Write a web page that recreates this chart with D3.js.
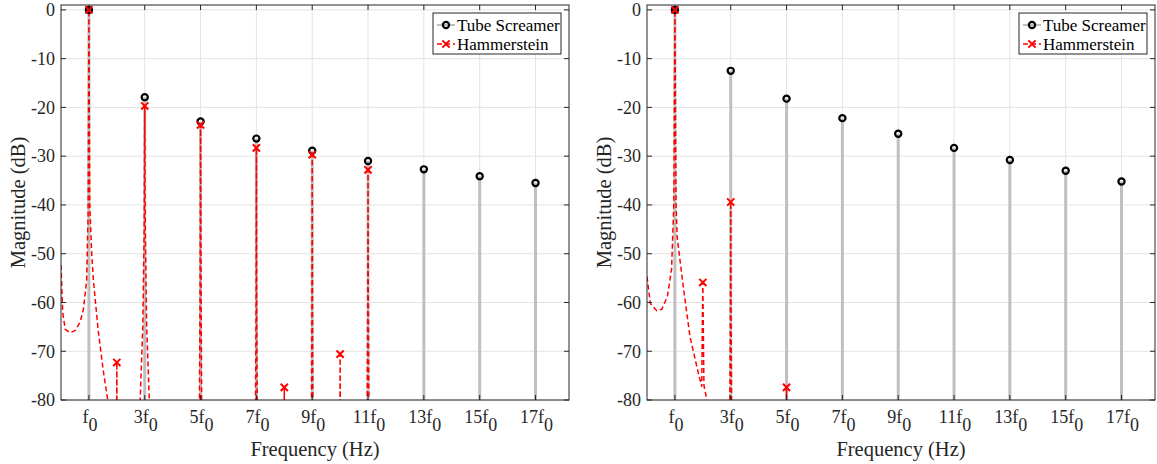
<!DOCTYPE html>
<html>
<head>
<meta charset="utf-8">
<script src="https://cdn.jsdelivr.net/npm/d3@7"></script>
<style>
  body { margin: 0; background: #fff; }
</style>
</head>
<body>
<svg id="chart" width="1157" height="464"></svg>
<script>
// harmonic positions (in multiples of f0) and tick labels
const harmonics = [1, 3, 5, 7, 9, 11, 13, 15, 17];
const xTickLabels = ["f_0", "3f_0", "5f_0", "7f_0", "9f_0", "11f_0", "13f_0", "15f_0", "17f_0"];
const yTicks = [-80, -70, -60, -50, -40, -30, -20, -10, 0];
const seriesNames = ["Tube Screamer", "Hammerstein"];

// Tube Screamer harmonic levels (dB)
const tsLeft = [0, -17.9, -22.9, -26.4, -28.9, -31.0, -32.7, -34.1, -35.5];
const tsRight = [0, -12.5, -18.2, -22.2, -25.4, -28.3, -30.8, -33.0, -35.2];

// Hammerstein marked peaks
const hamPeakFreqLeft = [1, 2, 3, 5, 7, 8, 9, 10, 11];
const hamPeakLeft = [0, -72.3, -19.7, -23.6, -28.3, -77.4, -29.7, -70.6, -32.8];
const hamPeakFreqRight = [1, 2, 3, 5];
const hamPeakRight = [0, -55.9, -39.4, -77.4];

// Hammerstein spectrum trace (values under -80 fall outside the axes)
const hamTraceFreqLeft = [0, 0.06, 0.15, 0.32, 0.5, 0.68, 0.8, 0.92, 0.97, 1.0, 1.03, 1.1, 1.16, 1.33, 1.51, 1.7,
  1.99, 2.0, 2.01, 2.83, 2.93, 2.98, 3.0, 3.02, 3.07, 3.17,
  4.95, 4.98, 5.0, 5.02, 5.05, 6.96, 6.99, 7.0, 7.01, 7.04, 7.99, 8.0, 8.01,
  8.97, 8.99, 9.0, 9.01, 9.03, 9.99, 10.0, 10.01, 10.96, 10.99, 11.0, 11.01, 11.04];
const hamTraceLeft = [-52.3, -62, -65.5, -66.2, -65.8, -64.1, -61.5, -55.4, -42, 0, -40, -50, -55.4, -65.6, -73.8, -81,
  -90, -72.3, -90, -81, -65, -45, -19.7, -45, -65, -81,
  -90, -60, -23.6, -60, -90, -90, -60, -28.3, -60, -90, -90, -77.4, -90,
  -90, -60, -29.7, -60, -90, -90, -70.6, -90, -90, -60, -32.8, -60, -90];
const hamTraceFreqRight = [0, 0.12, 0.35, 0.53, 0.73, 0.88, 0.96, 1.0, 1.04, 1.08, 1.3, 1.54, 1.84, 1.96,
  2.0, 2.04, 2.11, 2.16, 2.96, 2.99, 3.0, 3.01, 3.04, 4.99, 5.0, 5.01];
const hamTraceRight = [-54.7, -60.2, -61.7, -61.4, -58.8, -53.2, -40, 0, -40, -46.5, -56.8, -67, -74.5, -77.3,
  -55.9, -77, -79, -90, -90, -60, -39.4, -60, -90, -90, -77.4, -90];

const svg = d3.select("#chart");
const font = "Liberation Serif";
const margin = {top: 5, bottom: 64};
const plotH = 464 - margin.top - margin.bottom;
const plotW = 508;
const panels = [
  {left: 61, ts: tsLeft, peakF: hamPeakFreqLeft, peak: hamPeakLeft, traceF: hamTraceFreqLeft, trace: hamTraceLeft},
  {left: 647, ts: tsRight, peakF: hamPeakFreqRight, peak: hamPeakRight, traceF: hamTraceFreqRight, trace: hamTraceRight}
];

const x = d3.scaleLinear().domain([0, 18.2]).range([0, plotW]);
const y = d3.scaleLinear().domain([-80, 1]).range([plotH, 0]);
const axisColor = "#262626";
const grayLine = "#bfbfbf";

function crossPath(cx, cy, s) {
  return `M${cx - s},${cy - s}L${cx + s},${cy + s}M${cx - s},${cy + s}L${cx + s},${cy - s}`;
}

function addTickText(sel, label) {
  const parts = label.split("_");
  sel.append("tspan").text(parts[0]);
  sel.append("tspan").attr("dy", 8).text(parts[1]);
}

panels.forEach(function (p, pi) {
  const g = svg.append("g").attr("transform", `translate(${p.left},${margin.top})`);
  const clipId = "clip" + pi;
  g.append("clipPath").attr("id", clipId)
    .append("rect").attr("width", plotW).attr("height", plotH);

  // grid
  g.selectAll(".hgrid").data(yTicks).enter().append("line")
    .attr("x1", 0).attr("x2", plotW)
    .attr("y1", d => y(d)).attr("y2", d => y(d))
    .attr("stroke", "#e3e3e3").attr("stroke-width", 1);
  g.selectAll(".vgrid").data(harmonics).enter().append("line")
    .attr("x1", d => x(d)).attr("x2", d => x(d))
    .attr("y1", 0).attr("y2", plotH)
    .attr("stroke", "#e3e3e3").attr("stroke-width", 1);

  const plot = g.append("g").attr("clip-path", `url(#${clipId})`);

  // Tube Screamer stems
  plot.selectAll(".stem").data(p.ts).enter().append("line")
    .attr("x1", (d, i) => x(harmonics[i])).attr("x2", (d, i) => x(harmonics[i]))
    .attr("y1", y(-90)).attr("y2", d => y(d))
    .attr("stroke", grayLine).attr("stroke-width", 3);

  // Hammerstein trace
  const traceData = p.traceF.map((f, i) => [f, p.trace[i]]);
  plot.append("path")
    .datum(traceData)
    .attr("d", d3.line().x(d => x(d[0])).y(d => y(d[1])))
    .attr("fill", "none")
    .attr("stroke", "#ff0000").attr("stroke-width", 1.5)
    .attr("stroke-dasharray", "5,3");

  // Tube Screamer markers
  g.selectAll(".tsdot").data(p.ts).enter().append("circle")
    .attr("cx", (d, i) => x(harmonics[i])).attr("cy", d => y(d))
    .attr("r", 3.1).attr("fill", "none")
    .attr("stroke", "#000").attr("stroke-width", 2.2);

  // Hammerstein markers
  g.selectAll(".hamx").data(p.peak).enter().append("path")
    .attr("d", (d, i) => crossPath(x(p.peakF[i]), y(d), 3.6))
    .attr("stroke", "#ff0000").attr("stroke-width", 2).attr("fill", "none");

  // box
  g.append("rect").attr("width", plotW).attr("height", plotH)
    .attr("fill", "none").attr("stroke", axisColor).attr("stroke-width", 1);

  // ticks (inside, on all four sides)
  const tl = 5;
  yTicks.forEach(function (t) {
    g.append("line").attr("x1", 0).attr("x2", tl).attr("y1", y(t)).attr("y2", y(t)).attr("stroke", axisColor);
    g.append("line").attr("x1", plotW - tl).attr("x2", plotW).attr("y1", y(t)).attr("y2", y(t)).attr("stroke", axisColor);
  });
  harmonics.forEach(function (h) {
    g.append("line").attr("x1", x(h)).attr("x2", x(h)).attr("y1", plotH).attr("y2", plotH - tl).attr("stroke", axisColor);
    g.append("line").attr("x1", x(h)).attr("x2", x(h)).attr("y1", 0).attr("y2", tl).attr("stroke", axisColor);
  });

  // y tick labels
  g.selectAll(".ylab").data(yTicks).enter().append("text")
    .attr("x", -6).attr("y", d => y(d)).attr("dy", "0.35em")
    .attr("text-anchor", "end")
    .attr("font-family", font).attr("font-size", 18).attr("fill", axisColor)
    .text(d => d);

  // x tick labels
  g.selectAll(".xlab").data(xTickLabels).enter().append("text")
    .attr("x", (d, i) => x(harmonics[i]) + 1).attr("y", plotH + 23)
    .attr("text-anchor", "middle")
    .attr("font-family", font).attr("font-size", 18).attr("fill", axisColor)
    .each(function (d) { addTickText(d3.select(this), d); });

  // axis titles
  g.append("text").attr("x", plotW / 2).attr("y", 451)
    .attr("text-anchor", "middle")
    .attr("font-family", font).attr("font-size", 20.5).attr("fill", axisColor)
    .text("Frequency (Hz)");
  g.append("text")
    .attr("transform", `translate(-36,${plotH / 2}) rotate(-90)`)
    .attr("text-anchor", "middle")
    .attr("font-family", font).attr("font-size", 20.5).attr("fill", axisColor)
    .text("Magnitude (dB)");

  // legend
  const lg = g.append("g").attr("transform", `translate(${plotW - 136},8)`);
  lg.append("rect").attr("width", 128).attr("height", 41)
    .attr("fill", "#fff").attr("stroke", axisColor).attr("stroke-width", 1);
  lg.append("line").attr("x1", 4).attr("x2", 22).attr("y1", 12).attr("y2", 12)
    .attr("stroke", grayLine).attr("stroke-width", 2);
  lg.append("circle").attr("cx", 13).attr("cy", 12).attr("r", 3.1)
    .attr("fill", "none").attr("stroke", "#000").attr("stroke-width", 2.2);
  lg.append("line").attr("x1", 4).attr("x2", 22).attr("y1", 31).attr("y2", 31)
    .attr("stroke", "#ff0000").attr("stroke-width", 1.5).attr("stroke-dasharray", "5,3");
  lg.append("path").attr("d", crossPath(13, 31, 3.6))
    .attr("stroke", "#ff0000").attr("stroke-width", 2).attr("fill", "none");
  lg.selectAll(".legtext").data(seriesNames).enter().append("text")
    .attr("x", 24).attr("y", (d, i) => 12 + i * 19).attr("dy", "0.35em")
    .attr("font-family", font).attr("font-size", 17).attr("fill", "#000")
    .text(d => d);
});
</script>
</body>
</html>
